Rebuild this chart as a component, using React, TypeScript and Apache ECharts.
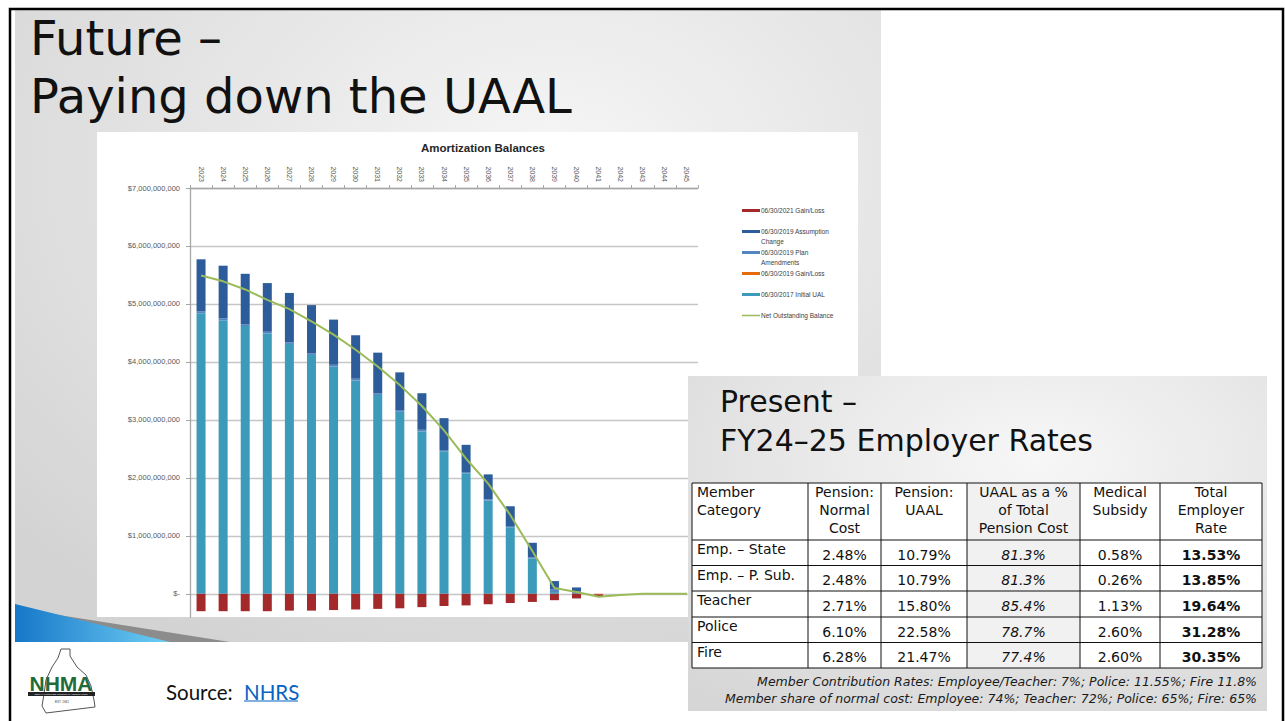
import React, { useEffect, useRef } from 'react';
import * as echarts from 'echarts';

// ---------- chart data (values in $ billions) ----------
const years = ['2023','2024','2025','2026','2027','2028','2029','2030','2031','2032','2033','2034','2035','2036','2037','2038','2039','2040','2041','2042','2043','2044','2045'];
const initialUAL2017 = [4.84,4.72,4.62,4.49,4.31,4.12,3.92,3.68,3.43,3.14,2.80,2.46,2.08,1.61,1.15,0.61,0.03,0,0,0,0,0,0];
const gainLoss2019 = [0,0,0,0,0,0,0,0,0,0,0,0,0,0,0,0,0,0,-0.01,0,0,0,0];
const planAmendments2019 = [0.03,0.03,0.03,0.03,0.03,0.03,0.03,0.03,0.03,0.03,0.03,0.02,0.02,0.02,0.02,0.02,0.05,0.04,0,0,0,0,0];
const assumptionChange2019 = [0.90,0.91,0.87,0.84,0.85,0.83,0.78,0.75,0.70,0.65,0.63,0.55,0.47,0.43,0.34,0.25,0.14,0.07,0,0,0,0,0];
const gainLoss2021 = [-0.30,-0.30,-0.30,-0.30,-0.29,-0.29,-0.28,-0.27,-0.26,-0.25,-0.23,-0.21,-0.20,-0.18,-0.16,-0.14,-0.11,-0.08,-0.03,0,0,0,0];
const netOutstanding = [5.49,5.39,5.25,5.07,4.91,4.70,4.47,4.21,3.92,3.60,3.24,2.82,2.33,1.90,1.36,0.74,0.10,0.03,-0.05,-0.02,0,0,0];
const yTickValues = [0,1,2,3,4,5,6,7];

const seriesNames = {
  red: '06/30/2021 Gain/Loss',
  assump: '06/30/2019 Assumption Change',
  plan: '06/30/2019 Plan Amendments',
  orange: '06/30/2019 Gain/Loss',
  teal: '06/30/2017 Initial UAL',
  net: 'Net Outstanding Balance',
};

// ---------- table data ----------
const tableHeaders = [
  ['Member', 'Category'],
  ['Pension:', 'Normal', 'Cost'],
  ['Pension:', 'UAAL'],
  ['UAAL as a %', 'of Total', 'Pension Cost'],
  ['Medical', 'Subsidy'],
  ['Total', 'Employer', 'Rate'],
];
const memberCategories = ['Emp. – State', 'Emp. – P. Sub.', 'Teacher', 'Police', 'Fire'];
const normalCost = ['2.48%', '2.48%', '2.71%', '6.10%', '6.28%'];
const pensionUAAL = ['10.79%', '10.79%', '15.80%', '22.58%', '21.47%'];
const uaalShare = ['81.3%', '81.3%', '85.4%', '78.7%', '77.4%'];
const medicalSubsidy = ['0.58%', '0.26%', '1.13%', '2.60%', '2.60%'];
const totalRate = ['13.53%', '13.85%', '19.64%', '31.28%', '30.35%'];
const footnotes = [
  'Member Contribution Rates: Employee/Teacher: 7%; Police: 11.55%; Fire 11.8%',
  'Member share of normal cost: Employee: 74%; Teacher: 72%; Police: 65%; Fire: 65%',
];

const C = {
  teal: '#3c9bba',
  orange: '#e46c0a',
  plan: '#5585c0',
  assump: '#2d5c9b',
  red: '#a3292b',
  green: '#9bbb59',
};

function buildGraphics() {
  const g: any[] = [];
  const T = 'DejaVu Sans';
  const S = 'Liberation Sans';
  // slide 1 background
  g.push({ type: 'rect', z: -20, silent: true, shape: { x: 15, y: 10, width: 866, height: 632 },
    style: { fill: { type: 'radial', x: 0.62, y: 0.25, r: 0.85, colorStops: [{ offset: 0, color: '#f6f6f6' }, { offset: 1, color: '#d3d3d3' }] } } });
  // swoosh
  g.push({ type: 'polygon', z: -19, silent: true, shape: { points: [[40, 612], [230, 642], [150, 642]] }, style: { fill: '#8c8c8c' } });
  g.push({ type: 'polygon', z: -19, silent: true, shape: { points: [[15, 604], [170, 642], [15, 642]] },
    style: { fill: { type: 'linear', x: 0, y: 0, x2: 1, y2: 0, colorStops: [{ offset: 0, color: '#1677c8' }, { offset: 1, color: '#6fcff5' }] } } });
  // chart panel
  g.push({ type: 'rect', z: -18, silent: true, shape: { x: 97, y: 132, width: 761, height: 485 }, style: { fill: '#ffffff' } });
  // titles
  g.push({ type: 'text', z: 5, x: 30, y: 62, style: { text: 'Future –', font: `48px "${T}"`, fill: '#111', textVerticalAlign: 'bottom' } });
  g.push({ type: 'text', z: 5, x: 30, y: 120, style: { text: 'Paying down the UAAL', font: `48px "${T}"`, fill: '#111', textVerticalAlign: 'bottom' } });
  g.push({ type: 'text', z: 5, x: 483, y: 148, style: { text: 'Amortization Balances', font: `bold 11.5px "${S}"`, fill: '#262626', textAlign: 'center', textVerticalAlign: 'middle' } });

  // legend
  const legendItems = [
    { name: seriesNames.red, color: C.red, lines: ['06/30/2021 Gain/Loss'] },
    { name: seriesNames.assump, color: C.assump, lines: ['06/30/2019 Assumption', 'Change'] },
    { name: seriesNames.plan, color: C.plan, lines: ['06/30/2019 Plan', 'Amendments'] },
    { name: seriesNames.orange, color: C.orange, lines: ['06/30/2019 Gain/Loss'] },
    { name: seriesNames.teal, color: C.teal, lines: ['06/30/2017 Initial UAL'] },
    { name: seriesNames.net, color: C.green, lines: ['Net Outstanding Balance'], line: true },
  ];
  legendItems.forEach((it, i) => {
    const y = 210.5 + i * 21;
    if (it.line) {
      g.push({ type: 'line', z: 5, shape: { x1: 742, y1: y, x2: 760, y2: y }, style: { stroke: it.color, lineWidth: 1.5 } });
    } else {
      g.push({ type: 'rect', z: 5, shape: { x: 742, y: y - 1.5, width: 18, height: 3 }, style: { fill: it.color } });
    }
    it.lines.forEach((t, k) => {
      g.push({ type: 'text', z: 5, x: 761, y: y + k * 10, style: { text: t, font: `6.5px "${S}"`, fill: '#404040', textVerticalAlign: 'middle' } });
    });
  });

  // footer area
  g.push({ type: 'text', z: 5, x: 166, y: 702, style: { text: 'Source: ', font: `20.5px Lato`, fill: '#111', textVerticalAlign: 'bottom' } });
  g.push({ type: 'text', z: 5, x: 244, y: 702, style: { text: 'NHRS', font: `20.5px Lato`, fill: '#0563c1', textVerticalAlign: 'bottom' } });
  g.push({ type: 'line', z: 5, shape: { x1: 244, y1: 701, x2: 298, y2: 701 }, style: { stroke: '#0563c1', lineWidth: 1.2 } });

  // logo
  g.push({ type: 'polygon', z: 5, shape: { points: [[61, 649], [70, 649], [70, 656], [77, 667], [86, 675], [91, 686], [94, 700], [95, 707], [46, 713], [42, 706], [44, 694], [46, 680], [52, 667], [58, 658]] },
    style: { fill: '#ffffff', stroke: '#555', lineWidth: 1 } });
  g.push({ type: 'text', z: 6, x: 61, y: 683, style: { text: 'NHMA', font: `bold 21px "${S}"`, fill: '#1f6b3a', textAlign: 'center', textVerticalAlign: 'middle' } });
  g.push({ type: 'rect', z: 6, shape: { x: 28, y: 692, width: 67, height: 4 }, style: { fill: '#222' } });
  g.push({ type: 'text', z: 7, x: 61, y: 694, style: { text: 'NEW HAMPSHIRE MUNICIPAL ASSOCIATION', font: `2.5px "${S}"`, fill: '#fff', textAlign: 'center', textVerticalAlign: 'middle' } });
  g.push({ type: 'text', z: 7, x: 62, y: 702, style: { text: 'EST. 1941', font: `3px "${S}"`, fill: '#333', textAlign: 'center', textVerticalAlign: 'middle' } });

  // table slide panel
  g.push({ type: 'rect', z: 50, silent: true, shape: { x: 688, y: 376, width: 579, height: 335 },
    style: { fill: { type: 'radial', x: 0.6, y: 0.25, r: 0.9, colorStops: [{ offset: 0, color: '#f7f7f7' }, { offset: 1, color: '#d6d6d6' }] } } });
  g.push({ type: 'text', z: 51, x: 720, y: 416, style: { text: 'Present –', font: `30px "${T}"`, fill: '#111', textVerticalAlign: 'bottom' } });
  g.push({ type: 'text', z: 51, x: 720, y: 455, style: { text: 'FY24–25 Employer Rates', font: `30px "${T}"`, fill: '#111', textVerticalAlign: 'bottom' } });

  const colX = [692, 808, 881, 967, 1080, 1160, 1262];
  const rowY = [483, 540, 565.5, 591, 617, 642.5, 668];
  g.push({ type: 'rect', z: 51, shape: { x: colX[0], y: rowY[0], width: colX[6] - colX[0], height: rowY[6] - rowY[0] }, style: { fill: '#ffffff' } });
  g.push({ type: 'rect', z: 51, shape: { x: colX[3], y: rowY[0], width: colX[4] - colX[3], height: rowY[6] - rowY[0] }, style: { fill: '#f1f1f1' } });
  colX.forEach((x) => g.push({ type: 'line', z: 52, shape: { x1: x, y1: rowY[0], x2: x, y2: rowY[6] }, style: { stroke: '#111', lineWidth: 1 } }));
  rowY.forEach((y) => g.push({ type: 'line', z: 52, shape: { x1: colX[0], y1: y, x2: colX[6], y2: y }, style: { stroke: '#111', lineWidth: 1 } }));
  tableHeaders.forEach((lines, c) => {
    lines.forEach((t, k) => {
      const left = c === 0;
      g.push({ type: 'text', z: 53, x: left ? colX[0] + 5 : (colX[c] + colX[c + 1]) / 2, y: 492 + k * 18,
        style: { text: t, font: `14px "${T}"`, fill: '#111', textAlign: left ? 'left' : 'center', textVerticalAlign: 'middle' } });
    });
  });
  const cols = [normalCost, pensionUAAL, uaalShare, medicalSubsidy, totalRate];
  memberCategories.forEach((name, r) => {
    const top = rowY[r + 1];
    g.push({ type: 'text', z: 53, x: colX[0] + 5, y: top + 9, style: { text: name, font: `14px "${T}"`, fill: '#111', textVerticalAlign: 'middle' } });
    cols.forEach((col, c) => {
      const ci = c + 1;
      const italic = ci === 3 ? 'italic ' : '';
      const bold = ci === 5 ? 'bold ' : '';
      g.push({ type: 'text', z: 53, x: (colX[ci] + colX[ci + 1]) / 2, y: top + 14.5,
        style: { text: col[r], font: `${italic}${bold}14px "${T}"`, fill: '#111', textAlign: 'center', textVerticalAlign: 'middle' } });
    });
  });
  footnotes.forEach((t, i) => {
    g.push({ type: 'text', z: 53, x: 1257, y: 681 + i * 17, style: { text: t, font: `italic 12.5px "${T}"`, fill: '#1a1a1a', textAlign: 'right', textVerticalAlign: 'middle' } });
  });

  // frame
  g.push({ type: 'rect', z: 100, silent: true, shape: { x: 10, y: 9, width: 1273, height: 730 }, style: { fill: 'none', stroke: '#000', lineWidth: 2.5 } });
  return g;
}

export default function App() {
  const ref = useRef<HTMLDivElement>(null);
  useEffect(() => {
    if (!ref.current) return;
    const chart = echarts.init(ref.current, undefined, { renderer: 'svg' });
    const fmt = (v: number) => (v === 0 ? '$-' : '$' + Math.round(v * 1e9).toLocaleString('en-US'));
    const bar = (name: string, data: number[], color: string) => ({
      name, type: 'bar', stack: 'total', data, barWidth: 9, itemStyle: { color }, z: 2,
    });
    chart.setOption({
      animation: false,
      backgroundColor: '#ffffff',
      grid: { left: 190, right: 587, top: 188, bottom: 104, containLabel: false },
      xAxis: {
        type: 'category', position: 'top', data: years, boundaryGap: true,
        axisLine: { onZero: false, lineStyle: { color: '#a6a6a6', width: 1.3 } },
        axisTick: { show: true, length: 3, lineStyle: { color: '#a6a6a6' } },
        axisLabel: { interval: 0, rotate: 90, fontSize: 7, color: '#595959', margin: 6, fontFamily: 'Liberation Sans' },
        splitLine: { show: false },
      },
      yAxis: {
        type: 'value', min: -0.4, max: 7,
        axisLine: { show: true, lineStyle: { color: '#a6a6a6', width: 1.3 } },
        axisTick: { show: true, length: 4, customValues: yTickValues, lineStyle: { color: '#a6a6a6' } },
        axisLabel: { customValues: yTickValues, formatter: fmt, fontSize: 7.5, color: '#595959', margin: 10, fontFamily: 'Liberation Sans' },
        splitLine: { show: true, lineStyle: { color: '#c6c6c6', width: 1.3 } },
      },
      series: [
        bar(seriesNames.teal, initialUAL2017, C.teal),
        bar(seriesNames.orange, gainLoss2019, C.orange),
        bar(seriesNames.plan, planAmendments2019, C.plan),
        bar(seriesNames.assump, assumptionChange2019, C.assump),
        bar(seriesNames.red, gainLoss2021, C.red),
        { name: seriesNames.net, type: 'line', data: netOutstanding, showSymbol: false, symbol: 'none', z: 4,
          lineStyle: { color: C.green, width: 2 }, itemStyle: { color: C.green } },
      ],
      graphic: { elements: buildGraphics() },
    });
    return () => chart.dispose();
  }, []);
  return <div ref={ref} style={{ position: 'fixed', left: 0, top: 0, width: 1285, height: 721 }} />;
}
